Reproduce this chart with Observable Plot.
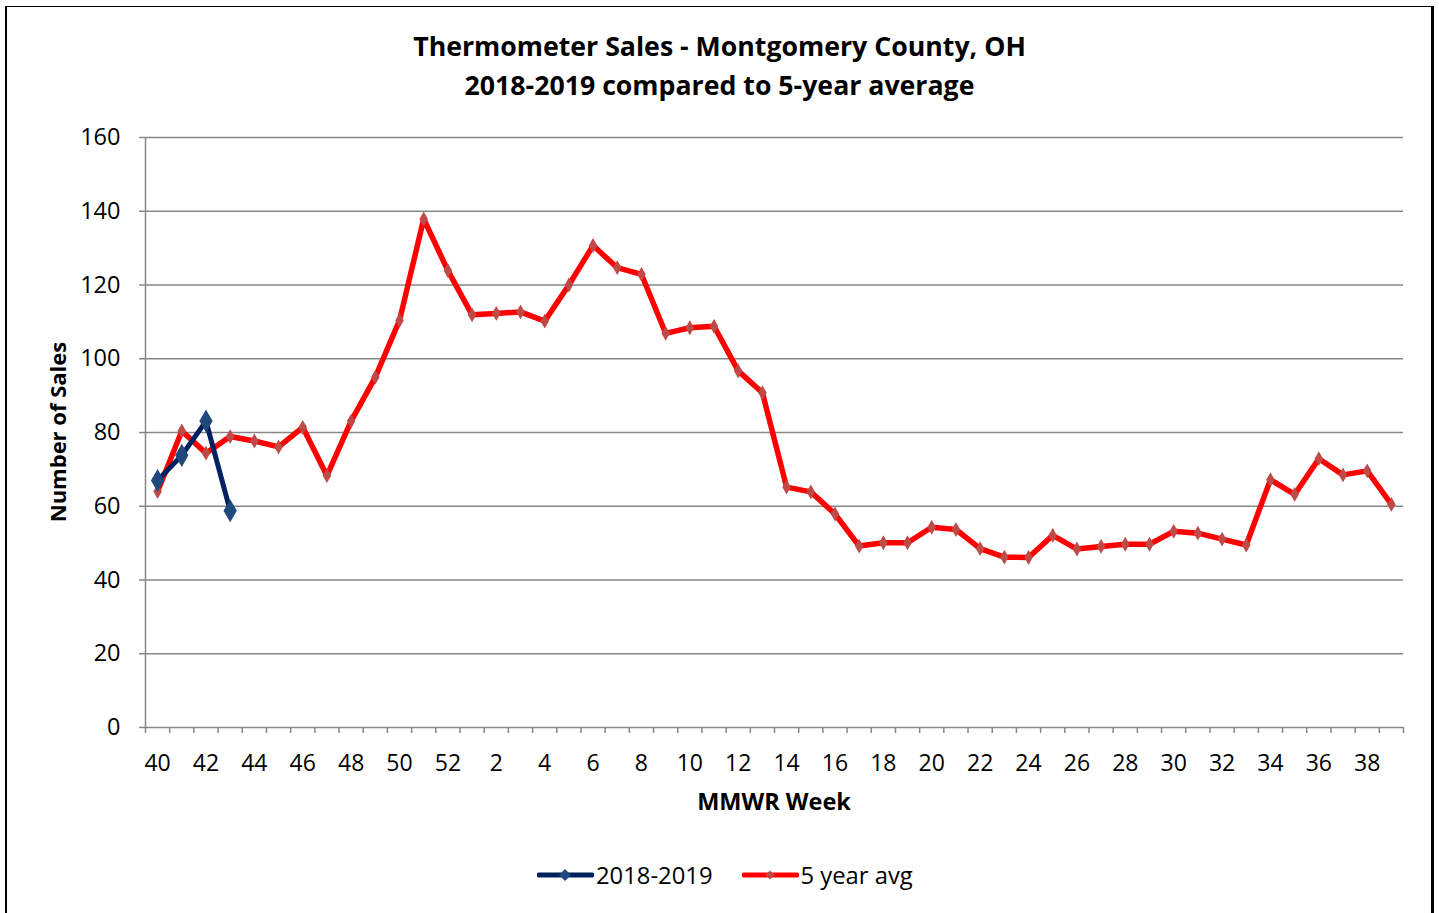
<!DOCTYPE html>
<html>
<head>
<meta charset="utf-8">
<script src="https://cdn.jsdelivr.net/npm/d3@7"></script>
<script src="https://cdn.jsdelivr.net/npm/@observablehq/plot@0.6"></script>
<style>
  html, body { margin: 0; padding: 0; background: #fff; }
  #wrap { position: relative; width: 1439px; height: 913px; overflow: hidden; font-family: "Open Sans", sans-serif; color: #000; }
  #frame { position: absolute; left: 5px; top: 6px; width: 1424px; height: 920px; border-left: 2px solid #000; border-right: 3px solid #000; border-top: 1.5px solid #000; }
  #title { position: absolute; left: 0; width: 1439px; top: 26px; text-align: center; font-weight: 700; font-size: 26.7px; line-height: 39px; }
  #chart { position: absolute; left: 0; top: 110px; }
  #ylab { position: absolute; left: 57px; top: 432px; transform: translate(-50%, -50%) rotate(-90deg); font-weight: 700; font-size: 22px; white-space: nowrap; }
  #xlab { position: absolute; left: 774px; top: 801px; transform: translate(-50%, -50%); font-weight: 700; font-size: 23.5px; white-space: nowrap; }
  #legend { position: absolute; top: 875px; left: 537px; transform: translateY(-50%); display: flex; align-items: center; font-size: 23.8px; }
  #legend .item { display: flex; align-items: center; }
  #legend svg { display: block; }
</style>
</head>
<body>
<div id="wrap">
  <div id="frame"></div>
  <div id="title">Thermometer Sales - Montgomery County, OH<br>2018-2019 compared to 5-year average</div>
  <div id="chart"></div>
  <div id="ylab">Number of Sales</div>
  <div id="xlab">MMWR Week</div>
  <div id="legend"></div>
</div>
<script>
// Categories: MMWR weeks 40..52 then 1..39
const weeks = [40,41,42,43,44,45,46,47,48,49,50,51,52,
  1,2,3,4,5,6,7,8,9,10,11,12,13,14,15,16,17,18,19,20,21,22,23,24,25,26,
  27,28,29,30,31,32,33,34,35,36,37,38,39];
// 5 year average
const avg5 = [64.0, 80.4, 74.4, 78.9, 77.7, 76.1, 81.4, 68.3, 83.1, 95.0, 110.4, 137.9, 123.9,
  111.9, 112.3, 112.7, 110.2, 120.0, 130.7, 124.7, 122.9, 106.9, 108.4, 108.8, 96.7, 90.8,
  65.2, 63.9, 57.9, 49.2, 50.1, 50.1, 54.3, 53.7, 48.5, 46.2, 46.1, 52.1, 48.4,
  49.1, 49.7, 49.7, 53.2, 52.7, 51.1, 49.5, 67.2, 63.2, 72.9, 68.5, 69.6, 60.5];
// 2018-2019 season (weeks 40-43)
const season = [67.0, 73.8, 83.1, 58.8];
const yTicks = [0, 20, 40, 60, 80, 100, 120, 140, 160];
const seriesNames = ["2018-2019", "5 year avg"];
const seriesColors = ["#002060", "#FF0000"];
const markerColors = ["#1F497D", "#BE4B48"];

const avgData = avg5.map((v, i) => ({i, week: weeks[i], v}));
const seasonData = season.map((v, i) => ({i, week: weeks[i], v}));
const labelIdx = weeks.map((w, i) => i).filter(i => i % 2 === 0);
const bounds = d3.range(weeks.length + 1).map(k => k - 0.5);
const grey = "#878787";

const chart = Plot.plot({
  width: 1439,
  height: 720,
  marginLeft: 145,
  marginRight: 36,
  marginTop: 27,
  marginBottom: 103,
  style: {fontFamily: "Open Sans, sans-serif", fontSize: "23px", color: "#000", background: "transparent"},
  x: {type: "linear", domain: [-0.5, weeks.length - 0.5]},
  y: {domain: [0, 160]},
  marks: [
    Plot.gridY(yTicks.filter(t => t > 0), {stroke: grey, strokeOpacity: 1, strokeWidth: 1.5}),
    Plot.ruleX([-0.5], {stroke: grey, strokeWidth: 1.5}),
    Plot.ruleY([0], {stroke: grey, strokeWidth: 1.5}),
    Plot.axisY(yTicks, {tickSize: 6, tickPadding: 19, stroke: grey, strokeWidth: 1.5, fill: "#000", fontSize: 23.5, label: null}),
    Plot.axisX(bounds, {tickSize: 6, tickFormat: () => "", stroke: grey, strokeWidth: 1.5, label: null}),
    Plot.axisX(labelIdx, {tickSize: 0, tickPadding: 27, tickFormat: i => String(weeks[i]), fill: "#000", fontSize: 23, label: null}),
    Plot.line(avgData, {x: "i", y: "v", stroke: seriesColors[1], strokeWidth: 5.5, strokeLinejoin: "round"}),
    Plot.dot(avgData, {x: "i", y: "v", symbol: "diamond", r: 4.5, fill: markerColors[1], stroke: "none"}),
    Plot.line(seasonData, {x: "i", y: "v", stroke: seriesColors[0], strokeWidth: 5, strokeLinejoin: "round"}),
    Plot.dot(seasonData, {x: "i", y: "v", symbol: "diamond", r: 7, fill: markerColors[0], stroke: "none"})
  ]
});
document.getElementById("chart").appendChild(chart);

// Legend
const legend = document.getElementById("legend");
seriesNames.forEach((name, k) => {
  const item = document.createElement("div");
  item.className = "item";
  item.style.marginRight = k === 0 ? "29px" : "0";
  const ns = "http://www.w3.org/2000/svg";
  const svg = document.createElementNS(ns, "svg");
  svg.setAttribute("width", 57); svg.setAttribute("height", 16);
  const ln = document.createElementNS(ns, "line");
  ln.setAttribute("x1", 2); ln.setAttribute("x2", 55); ln.setAttribute("y1", 8); ln.setAttribute("y2", 8);
  ln.setAttribute("stroke", seriesColors[k]); ln.setAttribute("stroke-width", 5); ln.setAttribute("stroke-linecap", "round");
  svg.appendChild(ln);
  const r = k === 0 ? 6 : 4.5;
  const dm = document.createElementNS(ns, "path");
  dm.setAttribute("d", `M28,${8 - r}L${28 + r},8L28,${8 + r}L${28 - r},8Z`);
  dm.setAttribute("fill", markerColors[k]);
  svg.appendChild(dm);
  item.appendChild(svg);
  const t = document.createElement("span");
  t.textContent = name;
  t.style.marginLeft = "2px";
  item.appendChild(t);
  legend.appendChild(item);
});
</script>
</body>
</html>
